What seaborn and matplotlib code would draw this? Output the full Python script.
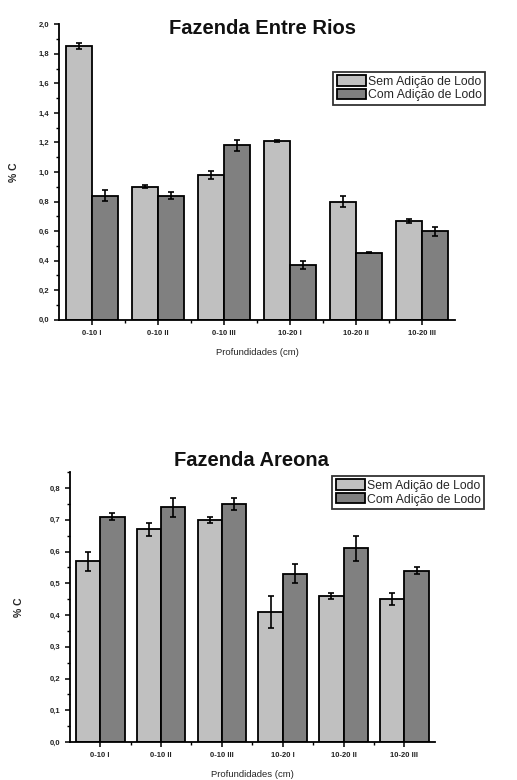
import matplotlib
matplotlib.use("Agg")
import matplotlib.pyplot as plt
from matplotlib.ticker import MultipleLocator, FixedLocator, FuncFormatter
import pandas as pd
import seaborn as sns

sns.set_theme(style="white")
plt.rcParams["font.family"] = ["Liberation Sans", "DejaVu Sans"]

depths = ["0-10 I", "0-10 II", "0-10 III", "10-20 I", "10-20 II", "10-20 III"]
series = ["Sem Adição de Lodo", "Com Adição de Lodo"]

# Fazenda Entre Rios
er_sem = [1.85, 0.90, 0.98, 1.21, 0.80, 0.67]
er_sem_err = [0.02, 0.01, 0.03, 0.005, 0.04, 0.015]
er_com = [0.84, 0.84, 1.18, 0.37, 0.455, 0.60]
er_com_err = [0.035, 0.025, 0.035, 0.025, 0.005, 0.03]

# Fazenda Areona
ar_sem = [0.57, 0.67, 0.70, 0.41, 0.46, 0.45]
ar_sem_err = [0.03, 0.02, 0.01, 0.05, 0.01, 0.02]
ar_com = [0.71, 0.74, 0.75, 0.53, 0.61, 0.54]
ar_com_err = [0.01, 0.03, 0.02, 0.03, 0.04, 0.01]

palette = {series[0]: "#c0c0c0", series[1]: "#808080"}


def make_df(sem, sem_err, com, com_err):
    return pd.DataFrame({
        "depth": depths * 2,
        "group": [series[0]] * len(depths) + [series[1]] * len(depths),
        "value": sem + com,
        "err": sem_err + com_err,
    })


def draw(ax, df, title, ymax, major, minor, title_xy, legend_anchor, ylabelpad):
    sns.barplot(data=df, x="depth", y="value", hue="group", order=depths,
                hue_order=series, palette=palette, errorbar=None,
                edgecolor="black", linewidth=1.3, width=0.8, saturation=1,
                ax=ax, legend=False)
    # error bars on top of each bar, taken from the drawn bars
    for cont, name in zip(ax.containers, series):
        errs = df.query("group == @name").set_index("depth").loc[depths, "err"]
        xs = [b.get_x() + b.get_width() / 2 for b in cont]
        ys = [b.get_height() for b in cont]
        ax.errorbar(xs, ys, yerr=errs.values, fmt="none", ecolor="black",
                    elinewidth=1.2, capsize=2.5, capthick=1.2, zorder=5)

    ax.set_xlim(-0.5, len(depths) - 0.5)
    ax.set_ylim(0, ymax)
    ax.yaxis.set_major_locator(MultipleLocator(major))
    ax.yaxis.set_minor_locator(MultipleLocator(minor))
    ax.yaxis.set_major_formatter(FuncFormatter(lambda v, p: f"{v:.1f}".replace(".", ",")))
    ax.xaxis.set_minor_locator(FixedLocator([i + 0.5 for i in range(len(depths) - 1)]))
    ax.tick_params(axis="both", which="major", direction="out", length=3.5,
                   width=1.1, labelsize=5.5, color="black", bottom=True, left=True)
    ax.tick_params(axis="both", which="minor", direction="out", length=2,
                   width=1, color="black", bottom=True, left=True)
    for lbl in ax.get_xticklabels() + ax.get_yticklabels():
        lbl.set_fontweight("bold")
        lbl.set_color("#222222")
    sns.despine(ax=ax)
    for s in ("left", "bottom"):
        ax.spines[s].set_linewidth(1.3)
        ax.spines[s].set_color("black")
    ax.set_xlabel("Profundidades (cm)", fontsize=6.8, labelpad=8)
    ax.set_ylabel("% C", fontsize=7.5, fontweight="bold", labelpad=ylabelpad)

    ax.figure.text(title_xy[0], title_xy[1], title, ha="center",
                   va="center", fontsize=14.5, fontweight="bold", color="#111111")

    handles = [plt.Rectangle((0, 0), 1, 1, facecolor=palette[s], edgecolor="black",
                             linewidth=1.3) for s in series]
    leg = ax.legend(handles, series, loc="upper left", bbox_to_anchor=legend_anchor,
                    bbox_transform=ax.figure.transFigure, fontsize=8.8,
                    frameon=True, fancybox=False, handlelength=2.4,
                    handleheight=0.9, handletextpad=0.15, labelspacing=0.12,
                    borderpad=0.3, borderaxespad=0)
    leg.get_frame().set_edgecolor("black")
    leg.get_frame().set_linewidth(1.3)


fig = plt.figure(figsize=(5.17, 7.80), dpi=100)
ax1 = fig.add_axes([0.114, 0.590, 0.766, 0.379])
ax2 = fig.add_axes([0.135, 0.0487, 0.706, 0.346])

draw(ax1, make_df(er_sem, er_sem_err, er_com, er_com_err), "Fazenda Entre Rios",
     2.0, 0.2, 0.1, (0.508, 0.964), (0.644, 0.908), 14)
draw(ax2, make_df(ar_sem, ar_sem_err, ar_com, ar_com_err), "Fazenda Areona",
     0.85, 0.1, 0.05, (0.487, 0.410), (0.642, 0.390), 18)

fig.savefig("out.png", dpi=100)
